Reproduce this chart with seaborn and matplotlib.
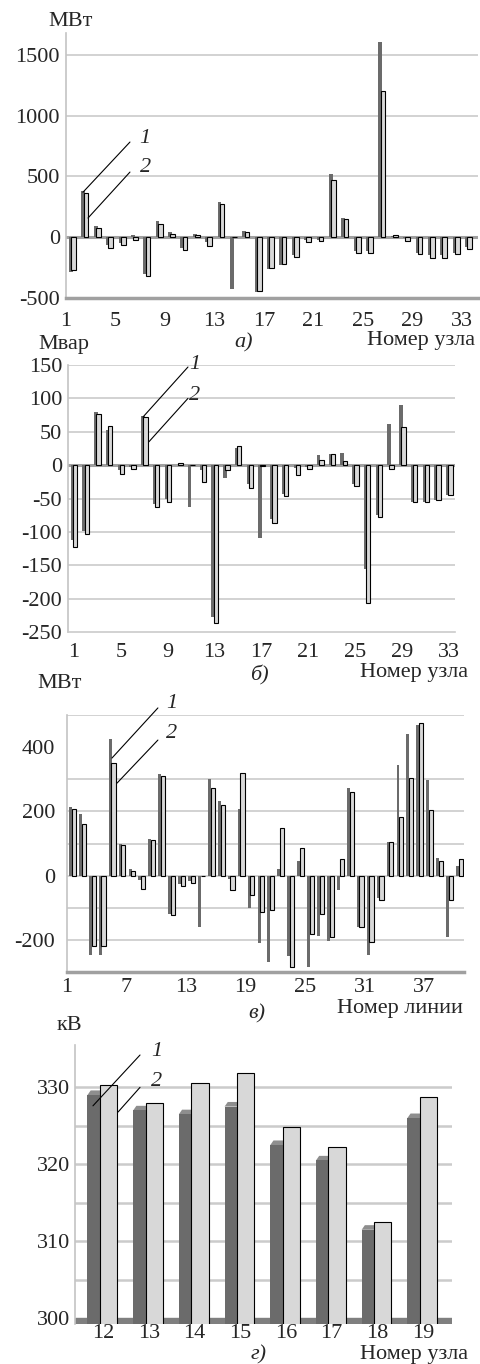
"""
Node / line balance bar charts (four stacked panels) in the style of a
scanned journal figure: series 1 dark, series 2 light with a black outline.
"""

import numpy as np
import matplotlib
matplotlib.use("Agg")
import matplotlib.pyplot as plt
import seaborn as sns

# --- а) active power at nodes, MW ---
p_nodes = list(range(1, 34))
p_series1 = [-290, 383, 92, -65, -50, 15, -300, 130, 40, -85, 25, -40, 290, -427, 55, -450,
             -265, -230, -150, -25, -20, 520, 162, -110, -110, 1610, 10, -10, -130, -150,
             -150, -130, -80]
p_series2 = [-270, 362, 78, -85, -65, -25, -320, 110, 30, -105, 20, -70, 275, 0, 45, -445,
             -255, -220, -160, -40, -35, 470, 150, -130, -130, 1200, 15, -30, -140, -170,
             -170, -140, -95]

# --- б) reactive power at nodes, Mvar ---
q_nodes = list(range(1, 34))
q_series1 = [-112, -98, 80, 53, -8, -3, 74, -58, -50, 0, -62, -8, -228, -19, 25, -28,
             -109, -80, -44, -5, -3, 15, 17, 18, -28, -155, -75, 61, 90, -55, -55, -52, -45]
q_series2 = [-123, -103, 76, 58, -13, -6, 72, -62, -55, 3, 0, -25, -236, -8, 29, -34,
             -2, -87, -47, -15, -6, 8, 16, 6, -31, -206, -77, -6, 57, -55, -55, -52, -45]

# --- в) line flows, MW ---
f_lines = list(range(1, 41))
f_series1 = [215, 193, -248, -248, 424, 98, 20, -15, 113, 315, -118, -25, -18, -159, 300,
             231, -10, 208, -100, -210, -268, 20, -250, 44, -285, -188, -205, -44, 274,
             -160, -248, -70, 106, 344, 441, 469, 298, 56, -190, 31]
f_series2 = [208, 161, -220, -220, 351, 95, 13, -41, 111, 311, -123, -31, -23, -2, 274,
             221, -46, 318, -60, -113, -106, 149, -283, 85, -182, -121, -190, 51, 260,
             -159, -208, -75, 105, 183, 305, 474, 205, 44, -75, 51]

# --- г) node voltages, kV ---
v_nodes = [12, 13, 14, 15, 16, 17, 18, 19]
v_series1 = [329.0, 327.0, 326.5, 327.5, 322.5, 320.5, 311.5, 326.0]
v_series2 = [330.3, 328.0, 330.6, 331.8, 324.8, 322.2, 312.5, 328.7]

DARK = '#6b6b6b'
LIGHT = '#d8d8d8'
GRID = '#cbcbcb'
AXIS = '#a0a0a0'

sns.set_style('white')
plt.rcParams['font.family'] = ['Liberation Serif', 'DejaVu Serif']
plt.rcParams['font.size'] = 16
plt.rcParams['axes.unicode_minus'] = False

W, H = 480, 1364
fig = plt.figure(figsize=(W / 100, H / 100), dpi=100)


def rect(left, top, right, bottom):
    # pixel box -> figure fraction
    return [left / W, 1 - bottom / H, (right - left) / W, (bottom - top) / H]


def ftext(x, y, s, **kw):
    kw.setdefault('va', 'center')
    fig.text(x / W, 1 - y / H, s, **kw)


def paired_bars(ax, s1, s2, off1, w1, off2, w2):
    """Dark series behind, light outlined series shifted right and overlapping."""
    pos = np.arange(len(s1))
    sns.barplot(x=pos + off1, y=s1, native_scale=True, orient='x', width=w1,
                color=DARK, saturation=1, linewidth=0, errorbar=None, ax=ax, zorder=3)
    sns.barplot(x=pos + off2, y=s2, native_scale=True, orient='x', width=w2,
                color=LIGHT, edgecolor='black', linewidth=0.8, saturation=1,
                errorbar=None, ax=ax, zorder=4)
    ax.set_xlabel('')
    ax.set_ylabel('')


def leader(ax, label, start, end, text_at):
    ax.plot([start[0], end[0]], [start[1], end[1]], color='black', lw=0.8,
            zorder=6, clip_on=False)
    ax.text(*text_at, label, style='italic', ha='center', va='center', clip_on=False)


def base_style(ax):
    for s in ['top', 'right']:
        ax.spines[s].set_visible(False)
    ax.spines['left'].set_color('#c4c4c4')
    ax.spines['left'].set_linewidth(1.2)


# ---------------- а) ----------------
ax = fig.add_axes(rect(66, 33, 478, 298))
paired_bars(ax, p_series1, p_series2, -0.1, 0.3, 0.12, 0.38)
ax.set_xlim(-0.5, 32.8)
ax.set_ylim(-500, 1680)
for g in [500, 1000, 1500]:
    ax.axhline(g, color=GRID, lw=1.2, zorder=1)
ax.axhline(0, color=AXIS, lw=2.2, zorder=2)
base_style(ax)
ax.spines['bottom'].set_color(AXIS)
ax.spines['bottom'].set_linewidth(2.5)
ax.set_yticks([-500, 0, 500, 1000, 1500])
ax.set_xticks(np.arange(0, len(p_nodes), 4) - 0.5, [str(n) for n in p_nodes[::4]])
ax.set_xticks(np.arange(len(p_nodes)) + 0.5, minor=True)
ax.tick_params(axis='y', length=0, pad=4.3)
ax.tick_params(axis='x', which='both', length=3, color=AXIS, width=1, pad=7)
leader(ax, '1', (4.67, 783), (0.87, 370), (5.89, 816))
leader(ax, '2', (4.67, 536), (1.28, 158), (5.89, 577))

ftext(48, 21, 'МВт')
ftext(244, 343, 'а)', ha='center', style='italic')
ftext(475, 341, 'Номер узла', ha='right')

# ---------------- б) ----------------
ax = fig.add_axes(rect(68, 365, 455, 632))
paired_bars(ax, q_series1, q_series2, -0.12, 0.3, 0.1, 0.38)
ax.set_xlim(-0.5, 32.5)
ax.set_ylim(-250, 150)
for g in [150, 100, 50, -50, -100, -150, -200]:
    ax.axhline(g, color=GRID, lw=1.2, zorder=1)
ax.axhline(0, color=AXIS, lw=2.2, zorder=2)
base_style(ax)
ax.spines['bottom'].set_color(GRID)
ax.spines['bottom'].set_linewidth(1.2)
ax.set_yticks(np.arange(-250, 151, 50))
ax.set_xticks(np.arange(0, len(q_nodes), 4), [str(n) for n in q_nodes[::4]])
ax.tick_params(axis='y', length=0, pad=4.3)
ax.tick_params(axis='x', length=0, pad=8)
leader(ax, '1', (9.73, 147), (5.89, 72), (10.33, 151))
leader(ax, '2', (9.73, 100), (6.4, 35), (10.33, 105))

ftext(38, 345, 'Мвар')
ftext(259, 675, 'б)', ha='center', style='italic')
ftext(468, 673, 'Номер узла', ha='right')

# ---------------- в) ----------------
ax = fig.add_axes(rect(67, 715, 464, 972))
paired_bars(ax, f_series1, f_series2, -0.15, 0.3, 0.18, 0.42)
ax.set_xlim(-0.5, 39.5)
ax.set_ylim(-300, 500)
for g in [500, 300, 200, 100, 0, -100, -200]:
    ax.axhline(g, color=GRID, lw=1.2, zorder=1)
base_style(ax)
ax.spines['bottom'].set_color(AXIS)
ax.spines['bottom'].set_linewidth(2.5)
ax.set_yticks([-200, 0, 200, 400])
ax.set_xticks(np.arange(0, len(f_lines), 6) - 0.5, [str(n) for n in f_lines[::6]])
ax.set_xticks(np.arange(len(f_lines)) + 0.5, minor=True)
ax.tick_params(axis='y', length=0, pad=8.6)
ax.tick_params(axis='x', which='both', length=3, color=AXIS, width=1, pad=1.5)
leader(ax, '1', (8.66, 522), (4.03, 366), (10.07, 537))
leader(ax, '2', (8.66, 422), (4.54, 288), (10.07, 441))

ftext(37, 683, 'МВт')
ftext(257, 1014, 'в)', ha='center', style='italic')
ftext(463, 1008, 'Номер линии', ha='right')

# ---------------- г) ----------------
ax = fig.add_axes(rect(75, 1045, 452, 1323.7))
paired_bars(ax, v_series1, v_series2, -0.17, 0.34, 0.12, 0.38)
# lighter top faces give the dark columns a little depth, as in the source
for i, v in enumerate(v_series1):
    xl, xr = i - 0.34, i
    ax.fill([xl, xl + 0.07, xr + 0.07, xr], [v, v + 0.6, v + 0.6, v],
            color='#8e8e8e', lw=0, zorder=2.9)
ax.set_xlim(-0.613, 7.637)
ax.set_ylim(299.3, 335.5)
for g in np.arange(305, 331, 5):
    ax.axhline(g, color=GRID, lw=1.8, zorder=1)
ax.axhspan(299.3, 300, color='#7f7f7f', zorder=2)
base_style(ax)
ax.spines['bottom'].set_visible(False)
ax.set_yticks([300, 310, 320, 330])
ax.set_xticks(np.arange(len(v_nodes)), [str(n) for n in v_nodes])
ax.tick_params(axis='y', length=0, pad=3.6)
ax.tick_params(axis='x', length=0, pad=0)
leader(ax, '1', (0.81, 334.2), (-0.22, 327.6), (1.18, 334.6))
leader(ax, '2', (0.81, 330.0), (0.33, 326.8), (1.18, 330.8))

ftext(57, 1025, 'кВ')
ftext(259, 1355, 'г)', ha='center', style='italic')
ftext(468, 1354, 'Номер узла', ha='right')

fig.savefig('out.png', dpi=100)
